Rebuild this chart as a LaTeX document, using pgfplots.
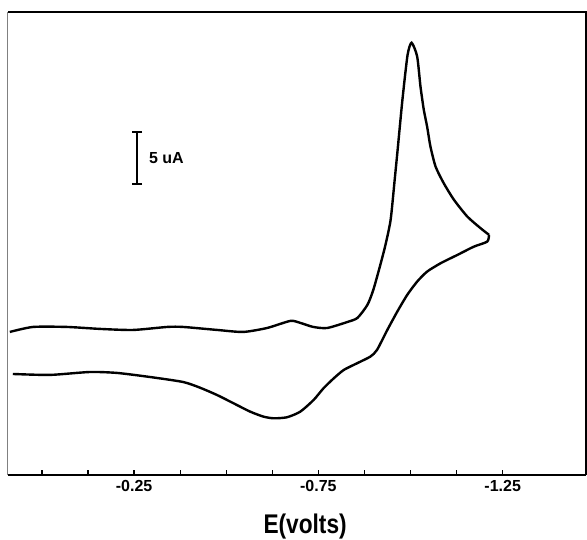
\documentclass[border=0pt]{standalone}
\usepackage{fontspec}
\setmainfont{Liberation Sans}
\usepackage{pgfplots}
\pgfplotsset{compat=1.18}

\begin{document}
\begin{tikzpicture}
\begin{axis}[
  scale only axis,
  width=578pt, height=463pt,
  x dir=reverse,
  xmin=-1.476, xmax=0.092,
  ymin=0, ymax=44.5,
  axis line style={draw=none},
  xtick={0,-0.125,-0.25,-0.375,-0.5,-0.625,-0.75,-0.875,-1.0,-1.125,-1.25},
  xticklabels={,,-0.25,,,,-0.75,,,,-1.25},
  xtick pos=bottom,
  ytick=\empty,
  tick align=inside,
  major tick length=5pt,
  tick style={black, line width=1.2pt},
  xticklabel style={font=\fontsize{16}{18}\selectfont\bfseries, yshift=-2pt},
  clip=false,
]
% forward scan
\addplot[black, line width=2.4pt, smooth, tension=0.4] coordinates {
(0.087,13.75) (0.024,14.23) (-0.068,14.23) (-0.158,14.04) (-0.247,13.94)
(-0.340,14.23) (-0.383,14.23) (-0.476,13.94) (-0.546,13.75) (-0.611,14.13)
(-0.674,14.81) (-0.701,14.62) (-0.736,14.23) (-0.774,14.13) (-0.829,14.71)
(-0.856,15.10) (-0.883,16.35) (-0.899,17.79) (-0.918,20.19) (-0.932,22.12)
(-0.946,24.52) (-0.957,28.37) (-0.965,31.25) (-0.978,36.06) (-0.992,40.38)
(-1.003,41.54) (-1.018,40.22) (-1.027,37.34) (-1.036,35.10) (-1.045,33.49)
(-1.054,31.57) (-1.068,29.64) (-1.090,28.05) (-1.118,26.44) (-1.154,24.84)
(-1.190,23.72) (-1.213,23.08)
};
% reverse scan
\addplot[black, line width=2.4pt, smooth, tension=0.4] coordinates {
(-1.213,23.08) (-1.208,22.43) (-1.172,21.95) (-1.127,21.15) (-1.082,20.36)
(-1.045,19.55) (-1.018,18.59) (-0.991,17.31) (-0.964,15.70) (-0.937,13.94)
(-0.909,12.02) (-0.891,11.38) (-0.855,10.74) (-0.819,10.10) (-0.792,9.30)
(-0.764,8.34) (-0.737,7.21) (-0.701,6.09) (-0.665,5.55) (-0.629,5.45)
(-0.601,5.61) (-0.565,6.09) (-0.520,6.89) (-0.475,7.69) (-0.429,8.39)
(-0.383,8.94) (-0.293,9.42) (-0.204,9.81) (-0.130,9.90) (-0.022,9.62)
(0.079,9.71)
};
% 5 uA scale bar
\addplot[black, line width=1.6pt, mark=-, mark size=5pt, mark options={line width=1.8pt}] coordinates {(-0.258,28) (-0.258,33)};
\node[anchor=west, inner sep=0pt, font=\fontsize{16}{18}\selectfont\bfseries] at (axis cs:-0.290,30.5) {5 uA};
% frame
\draw[gray, line width=1pt] (rel axis cs:0,0) -- (rel axis cs:0,1);
\draw[black, line width=1.5pt] (rel axis cs:0,1) -- (rel axis cs:1,1) -- (rel axis cs:1,0);
\draw[black, line width=2.5pt] (rel axis cs:0,0) -- (rel axis cs:1,0);
\node[font=\fontsize{27}{29}\selectfont\bfseries] at ([yshift=-52pt]rel axis cs:0.514,0) {\scalebox{0.84}[1]{E(volts)}};
\end{axis}
\pgfresetboundingbox
\path (-8pt,-64pt) rectangle (579pt,475pt);
\end{tikzpicture}
\end{document}
